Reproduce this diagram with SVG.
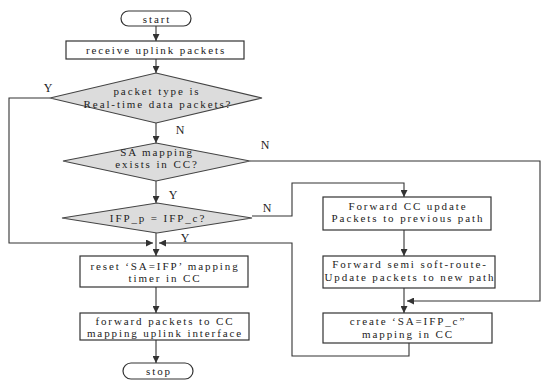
<svg xmlns="http://www.w3.org/2000/svg" width="541" height="380" viewBox="0 0 541 380">
<defs>
<marker id="ah" viewBox="0 0 10 10" refX="10" refY="5" markerWidth="7" markerHeight="7" markerUnits="userSpaceOnUse" orient="auto">
<path d="M0,0 L10,5 L0,10 z" fill="#333"/>
</marker>
<style>
.box{fill:#fff;stroke:#333;stroke-width:1.2}
.dia{fill:#dcdcdc;stroke:#444;stroke-width:1.1}
.t{font-family:"Liberation Serif","Times New Roman",serif;font-size:11px;fill:#222;text-anchor:middle;letter-spacing:1.9px}
.lbl{font-family:"Liberation Serif","Times New Roman",serif;font-size:12px;fill:#222;text-anchor:middle}
.c{fill:none;stroke:#333;stroke-width:1.1}
</style>
</defs>
<rect width="541" height="380" fill="#fff"/>
<g id="connectors">
<path class="c" d="M156,26 V41" marker-end="url(#ah)"/>
<path class="c" d="M156,59 V73" marker-end="url(#ah)"/>
<path class="c" d="M156,123 V143" marker-end="url(#ah)"/>
<path class="c" d="M156,181 V203" marker-end="url(#ah)"/>
<path class="c" d="M156,233 V256" marker-end="url(#ah)"/>
<path class="c" d="M50,98 H9 V243 H153" marker-end="url(#ah)"/>
<path class="c" d="M409,343 V356 H292 V243 H159" marker-end="url(#ah)"/>
<path class="c" d="M252,216 H292 V183 H404 V197" marker-end="url(#ah)"/>
<path class="c" d="M250,161 H540 V301 H407" marker-end="url(#ah)"/>
<path class="c" d="M404,230 V256" marker-end="url(#ah)"/>
<path class="c" d="M404,288 V313" marker-end="url(#ah)"/>
<path class="c" d="M156,287 V313" marker-end="url(#ah)"/>
<path class="c" d="M156,340 V363" marker-end="url(#ah)"/>
<text class="lbl" x="48" y="92">Y</text>
<text class="lbl" x="180" y="134">N</text>
<text class="lbl" x="265" y="149">N</text>
<text class="lbl" x="173" y="199">Y</text>
<text class="lbl" x="267" y="212">N</text>
<text class="lbl" x="185" y="242">Y</text>
</g>
<g id="start">
<rect class="box" x="121" y="11" width="70" height="15" rx="7.5"/>
<text class="t" x="157" y="22.5">start</text>
</g>
<g id="receive">
<rect class="box" x="66" y="41" width="178" height="18"/>
<text class="t" x="156" y="54">receive uplink packets</text>
</g>
<g id="realtime">
<polygon class="dia" points="156,73 262,98 156,123 50,98"/>
<text class="t" x="157" y="95">packet type is</text>
<text class="t" x="158" y="108">Real-time data packets?</text>
</g>
<g id="samapping">
<polygon class="dia" points="156,143 250,161 156,181 63,161"/>
<text class="t" x="157" y="155.5">SA mapping</text>
<text class="t" x="157" y="168">exists in CC?</text>
</g>
<g id="ifp">
<polygon class="dia" points="157,203 252,218 157,233 62,218"/>
<text class="t" x="158" y="222">IFP_p = IFP_c?</text>
</g>
<g id="reset">
<rect class="box" x="80" y="256" width="168" height="31"/>
<text class="t" x="165" y="269.5">reset ‘SA=IFP’ mapping</text>
<text class="t" x="165" y="282">timer in CC</text>
</g>
<g id="forward">
<rect class="box" x="80" y="313" width="169" height="27"/>
<text class="t" x="165" y="324.5">forward packets to CC</text>
<text class="t" x="165" y="337">mapping uplink interface</text>
</g>
<g id="stop">
<rect class="box" x="123" y="363" width="70" height="16" rx="8"/>
<text class="t" x="159" y="375">stop</text>
</g>
<g id="forwardcc">
<rect class="box" x="323" y="197" width="168" height="33"/>
<text class="t" x="408" y="209.5">Forward CC update</text>
<text class="t" x="408" y="222">Packets to previous path</text>
</g>
<g id="forwardsemi">
<rect class="box" x="323" y="256" width="172" height="32"/>
<text class="t" x="410" y="268">Forward semi soft-route-</text>
<text class="t" x="410" y="280.5">Update packets to new path</text>
</g>
<g id="create">
<rect class="box" x="323" y="313" width="169" height="30"/>
<text class="t" x="408" y="325">create ‘SA=IFP_c”</text>
<text class="t" x="408" y="337.5">mapping in CC</text>
</g>
</svg>
